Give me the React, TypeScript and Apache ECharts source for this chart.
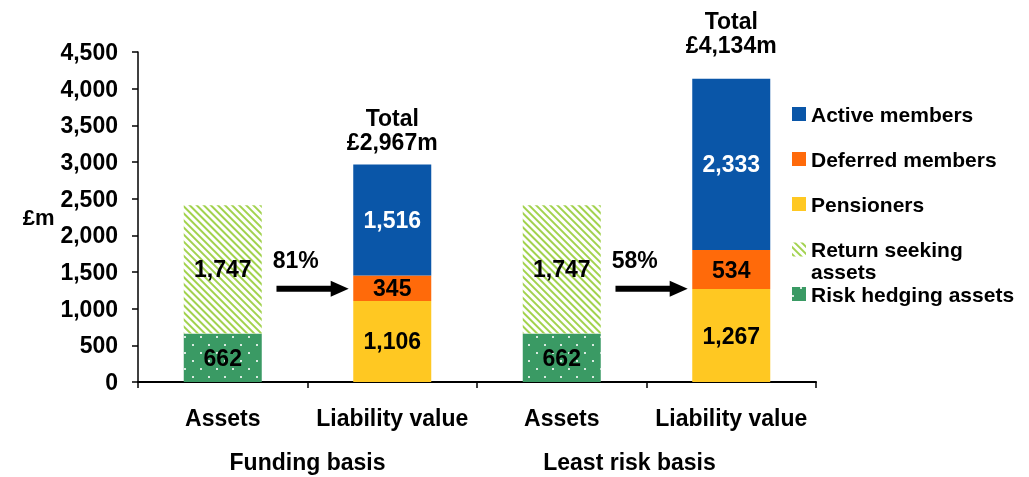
import React, { useEffect, useRef } from 'react';
import * as echarts from 'echarts';

const categories = ['Assets', 'Liability value', 'Assets', 'Liability value'];
const groups = ['Funding basis', 'Least risk basis'];
const riskHedging = [662, null, 662, null];
const returnSeeking = [1747, null, 1747, null];
const pensioners = [null, 1106, null, 1267];
const deferred = [null, 345, null, 534];
const active = [null, 1516, null, 2333];
const fundingRatios = ['81%', '58%'];
const arrowFrom = [0, 2];
const arrowLevel = 1270;
const yMax = 4500;
const yStep = 500;

const FONT = '"Liberation Sans", Arial, Helvetica, sans-serif';
const fmt = (v: number) => v.toLocaleString('en-US');
// gap (px) between each total label and its bar top
const totalLabelGap = [10, 22];

export default function App() {
  const ref = useRef<HTMLDivElement>(null);
  useEffect(() => {
    const chart = echarts.init(ref.current as HTMLDivElement, null, { renderer: 'svg' });

    const totals = categories.map((_, i) =>
      pensioners[i] == null ? null : (pensioners[i] as number) + (deferred[i] as number) + (active[i] as number)
    );
    const totalData = totals
      .map((t, i) => (t == null ? null : [i, t]))
      .filter((d) => d != null)
      .map((d, k) => ({ value: d, label: { distance: totalLabelGap[k] } }));

    const FS = 23;
    const baseText = { fontFamily: FONT, fontWeight: 'bold', fontSize: FS, color: '#000' };
    const legendText = { fontFamily: FONT, fontWeight: 'bold', fontSize: 21, color: '#000' };

    const labelStyle = (color: string) => ({
      show: true,
      position: 'inside',
      ...baseText,
      color,
      formatter: (p: any) => fmt(p.value),
    });

    const legendAt = (name: string, top: number) => ({
      data: [name],
      left: 792,
      top,
      padding: 0,
      orient: 'vertical',
      itemWidth: 14,
      itemHeight: 14,
      icon: 'rect',
      selectedMode: false,
      textStyle: { ...legendText, lineHeight: 22 },
    });

    const barW = 78;

    const option: any = {
      animation: false,
      textStyle: { fontFamily: FONT },
      grid: { left: 138, right: 213, top: 52, bottom: 95, containLabel: false },
      legend: [
        legendAt('Active members', 103),
        legendAt('Deferred members', 148),
        legendAt('Pensioners', 193),
        {
          ...legendAt('Return seeking assets', 238.5),
          itemHeight: 44,
          icon: 'path://M0,0h0.01v0.01h-0.01z M0,4h14v14h-14z M0,43.99h0.01v0.01h-0.01z',
          formatter: () => 'Return seeking\nassets',
        },
        legendAt('Risk hedging assets', 283),
      ],
      xAxis: [
        {
          type: 'category',
          data: categories,
          position: 'bottom',
          axisLine: { lineStyle: { color: '#000', width: 2 } },
          axisTick: { show: true, alignWithLabel: false, length: 6, lineStyle: { color: '#000', width: 1.5 } },
          axisLabel: { ...baseText, margin: 24, interval: 0 },
        },
        {
          type: 'category',
          data: groups,
          position: 'bottom',
          gridIndex: 0,
          axisLine: { show: false },
          axisTick: { show: false },
          axisLabel: {
            ...baseText,
            margin: 68,
            interval: 0,
            formatter: (v: string, i: number) => (i === 1 ? '{b|' + v + '}' : '{a|' + v + '}'),
            rich: {
              a: { ...baseText },
              b: { ...baseText, padding: [0, 34, 0, 0] },
            },
          },
        },
      ],
      yAxis: {
        type: 'value',
        min: 0,
        max: yMax,
        interval: yStep,
        name: '£m',
        nameLocation: 'middle',
        nameRotate: 0,
        nameGap: 80,
        nameTextStyle: { ...baseText, fontSize: 22 },
        splitLine: { show: false },
        axisLine: { show: true, lineStyle: { color: '#000', width: 1.5 } },
        axisTick: { show: true, inside: false, length: 6, lineStyle: { color: '#000', width: 1.5 } },
        axisLabel: { ...baseText, margin: 20, formatter: (v: number) => fmt(v) },
      },
      series: [
        {
          name: 'Risk hedging assets',
          type: 'bar',
          stack: 'all',
          barWidth: barW,
          data: riskHedging,
          itemStyle: {
            color: '#3a9a64',
            decal: {
              symbol: 'rect',
              symbolSize: 1,
              color: 'rgba(255,255,255,0.8)',
              dashArrayX: [[2, 14], [0, 8, 2, 6]],
              dashArrayY: [2, 6],
              rotation: 0,
            },
          },
          label: labelStyle('#000'),
        },
        {
          name: 'Return seeking assets',
          type: 'bar',
          stack: 'all',
          barWidth: barW,
          data: returnSeeking,
          itemStyle: {
            color: '#ffffff',
            decal: {
              symbol: 'rect',
              symbolSize: 1,
              color: '#a2d24e',
              dashArrayX: [1, 0],
              dashArrayY: [2, 2.3],
              rotation: Math.PI / 4,
            },
          },
          label: labelStyle('#000'),
        },
        {
          name: 'Pensioners',
          type: 'bar',
          stack: 'all',
          barWidth: barW,
          data: pensioners,
          itemStyle: { color: '#ffc822' },
          label: labelStyle('#000'),
        },
        {
          name: 'Deferred members',
          type: 'bar',
          stack: 'all',
          barWidth: barW,
          data: deferred,
          itemStyle: { color: '#ff6a0a' },
          label: labelStyle('#000'),
        },
        {
          name: 'Active members',
          type: 'bar',
          stack: 'all',
          barWidth: barW,
          data: active,
          itemStyle: { color: '#0a56a8' },
          label: labelStyle('#fff'),
        },
        {
          name: 'Totals',
          type: 'scatter',
          symbolSize: 0,
          data: totalData,
          z: 5,
          itemStyle: { opacity: 1, color: 'rgba(0,0,0,0)' },
          label: {
            show: true,
            position: 'top',
            distance: 10,
            ...baseText,
            lineHeight: 24,
            align: 'center',
            formatter: (p: any) => 'Total\n£' + fmt(p.value[1]) + 'm',
          },
        },
        {
          name: 'Arrows',
          type: 'custom',
          z: 6,
          data: arrowFrom.map((c) => [c, arrowLevel]),
          renderItem: (params: any, api: any) => {
            const p = api.coord([api.value(0), api.value(1)]);
            const band = api.size([1, 0])[0];
            const x0 = p[0] + band * 0.317;
            const x1 = p[0] + band * 0.743;
            const head = 18;
            const y = p[1];
            return {
              type: 'group',
              children: [
                { type: 'rect', shape: { x: x0, y: y - 3, width: x1 - head - x0 + 1, height: 6 }, style: { fill: '#000' } },
                {
                  type: 'polygon',
                  shape: { points: [[x1 - head, y - 8], [x1, y], [x1 - head, y + 8]] },
                  style: { fill: '#000' },
                },
                {
                  type: 'text',
                  x: p[0] + band * 0.295,
                  y: y - 29,
                  style: {
                    text: fundingRatios[params.dataIndex],
                    fill: '#000',
                    font: 'bold ' + FS + 'px ' + FONT,
                    align: 'left',
                    verticalAlign: 'middle',
                  },
                },
              ],
            };
          },
        },
      ],
    };

    chart.setOption(option);
    return () => chart.dispose();
  }, []);
  return <div ref={ref} style={{ position: 'fixed', left: 0, top: 0, width: 1029, height: 477 }} />;
}
